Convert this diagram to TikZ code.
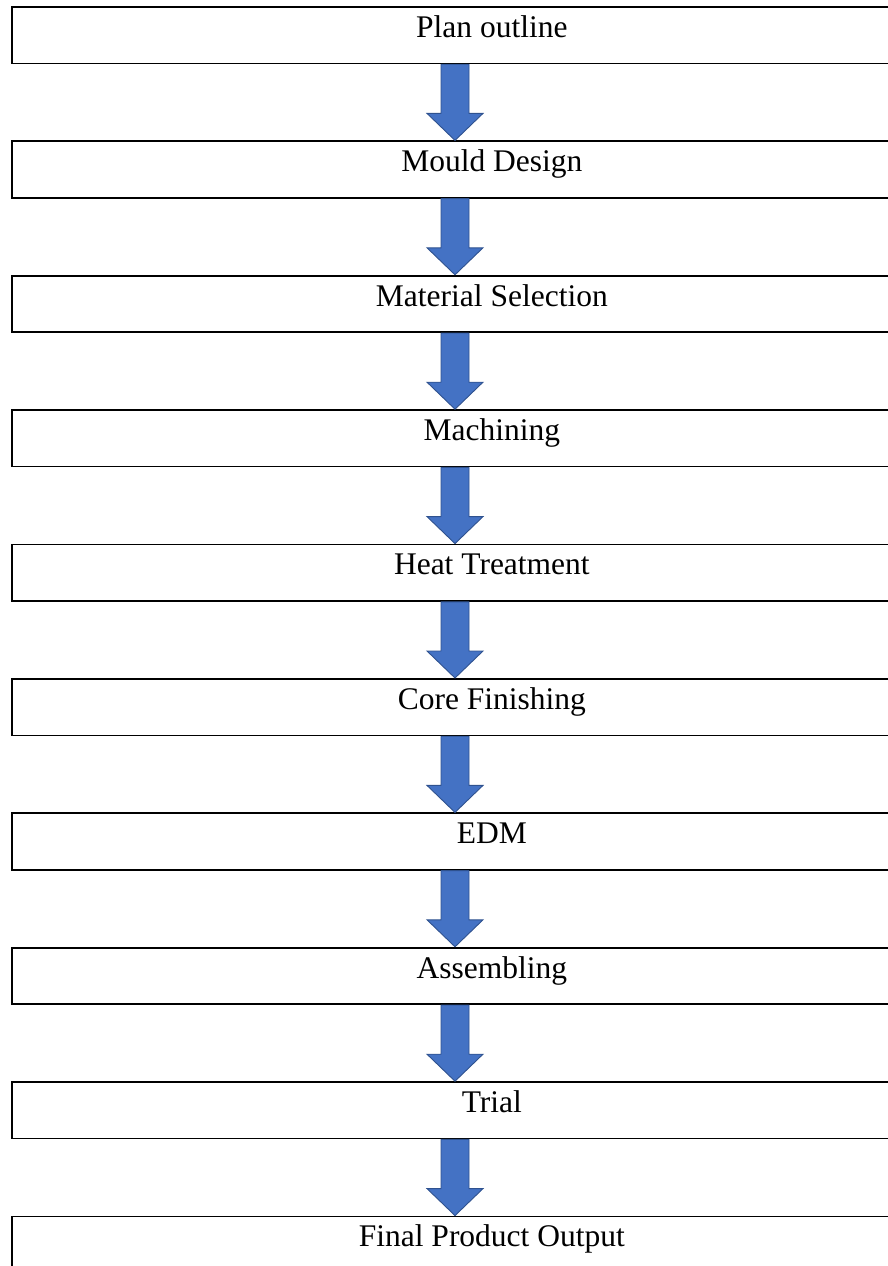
\documentclass[tikz,border=0pt]{standalone}
\usepackage{fontspec}
\setmainfont{Liberation Serif}
\usepackage{tikz}
\usetikzlibrary{calc}
\definecolor{arrowblue}{HTML}{4472C4}
\definecolor{arrowedge}{HTML}{2F528F}
\begin{document}
\begin{tikzpicture}[
    x=1pt, y=1pt,
    stagebox/.style={draw=black, line width=1.7pt, fill=white, anchor=north west,
                     minimum width=960pt, minimum height=56.5pt, inner sep=0pt,
                     text height=22pt, text depth=17.5pt, font=\fontsize{31.5}{36}\selectfont},
    blockarrow/.style={fill=arrowblue, draw=arrowedge, line width=0.9pt, line join=miter}
]
\useasboundingbox (0,0) rectangle (888,-1266);
\clip (0,0) rectangle (888,-1266);
\foreach \i/\txt in {1/Plan outline, 2/Mould Design, 3/Material Selection, 4/Machining,
                     5/Heat Treatment, 6/Core Finishing, 7/EDM, 8/Assembling, 9/Trial,
                     10/Final Product Output}{
  \node[stagebox] (s\i) at (11, {-6-134.4*(\i-1)}) {\txt};
}
\foreach \a/\b in {1/2, 2/3, 3/4, 4/5, 5/6, 6/7, 7/8, 8/9, 9/10}{
  \draw[blockarrow] let \p1=($(s\a.south west)+(444,0)$), \p2=($(s\b.north west)+(444,0)$) in
    (\x1-14pt,\y1) -- (\x1+14pt,\y1) -- (\x1+14pt,\y2+27pt) -- (\x1+28pt,\y2+27pt)
    -- (\x2,\y2) -- (\x1-28pt,\y2+27pt) -- (\x1-14pt,\y2+27pt) -- cycle;
}
\end{tikzpicture}
\end{document}
